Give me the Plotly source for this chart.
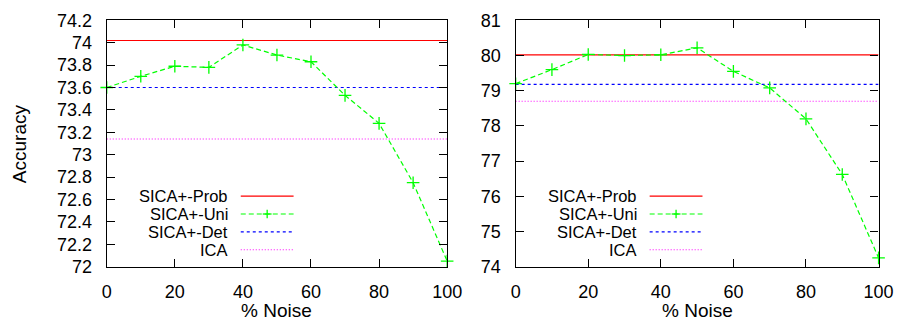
import plotly.graph_objects as go

noise = [0, 10, 20, 30, 40, 50, 60, 70, 80, 90, 100]

# Left panel
uni_left = [73.60, 73.70, 73.79, 73.78, 73.98, 73.89, 73.83, 73.53, 73.28, 72.75, 72.05]
prob_left = 74.02
det_left = 73.60
ica_left = 73.14

# Right panel
uni_right = [79.20, 79.60, 80.03, 80.00, 80.02, 80.22, 79.55, 79.08, 78.20, 76.62, 74.25]
prob_right = 80.02
det_right = 79.18
ica_right = 78.70

series_names = ["SICA+-Prob", "SICA+-Uni", "SICA+-Det", "ICA"]

W, H = 919, 334
FONT = "Liberation Sans"
FS = 19
LFS = 16.5
TFS = 18
RED, GREEN, BLUE, MAG = "#ff0000", "#00ff00", "#0000ff", "#ff00ff"

fig = go.Figure()

def px_x(p):
    return p / W

def px_y(p):
    return 1 - p / H

panels = [
    dict(xa="x", ya="y", uni=uni_left, prob=prob_left, det=det_left, ica=ica_left),
    dict(xa="x2", ya="y2", uni=uni_right, prob=prob_right, det=det_right, ica=ica_right),
]

x0, x1 = noise[0], noise[-1]
for p in panels:
    fig.add_trace(go.Scatter(x=[x0, x1], y=[p["prob"]] * 2, mode="lines",
                             line=dict(color=RED, width=1.2), xaxis=p["xa"], yaxis=p["ya"],
                             showlegend=False, hoverinfo="skip"))
    fig.add_trace(go.Scatter(x=[x0, x1], y=[p["det"]] * 2, mode="lines",
                             line=dict(color=BLUE, width=1.2, dash="3px,3px"), xaxis=p["xa"], yaxis=p["ya"],
                             showlegend=False))
    fig.add_trace(go.Scatter(x=[x0, x1], y=[p["ica"]] * 2, mode="lines",
                             line=dict(color=MAG, width=1.2, dash="1px,2px"), xaxis=p["xa"], yaxis=p["ya"],
                             showlegend=False))
    fig.add_trace(go.Scatter(x=noise, y=p["uni"], mode="lines+markers",
                             line=dict(color=GREEN, width=1.2, dash="5px,3px"),
                             marker=dict(symbol="cross-thin", size=9, line=dict(color=GREEN, width=1.3)),
                             xaxis=p["xa"], yaxis=p["ya"], showlegend=False, cliponaxis=False))

L = dict(x=(104, 452))
R = dict(x=(522, 893))
ytop, ybot = 11, 273

axis_common = dict(showline=True, mirror="ticks", linecolor="black", linewidth=1.3,
                   ticks="inside", ticklen=8, tickcolor="black", tickwidth=1.2,
                   showgrid=False, zeroline=False,
                   tickfont=dict(family=FONT, size=TFS, color="black"))

fig.update_layout(
    width=W, height=H, margin=dict(l=0, r=0, t=0, b=0),
    paper_bgcolor="white", plot_bgcolor="white",
    font=dict(family=FONT, size=FS, color="black"),
    showlegend=False,
    xaxis=dict(domain=[px_x(L["x"][0]), px_x(L["x"][1])], range=[0, 100], dtick=20, tick0=0,
               anchor="y", ticklabelstandoff=9, **axis_common),
    yaxis=dict(domain=[px_y(ybot), px_y(ytop)], range=[72, 74.2], dtick=0.2, tick0=72,
               anchor="x", ticklabelstandoff=10, **axis_common),
    xaxis2=dict(domain=[px_x(R["x"][0]), px_x(R["x"][1])], range=[0, 100], dtick=20, tick0=0,
                anchor="y2", ticklabelstandoff=9, **axis_common),
    yaxis2=dict(domain=[px_y(ybot), px_y(ytop)], range=[74, 81], dtick=1, tick0=74,
                anchor="x2", ticklabelstandoff=10, **axis_common),
)

annotations = []
shapes = []
annotations.append(dict(text="Accuracy", x=px_x(15), y=px_y(142), xref="paper", yref="paper",
                        xanchor="center", yanchor="middle",
                        textangle=-90, showarrow=False, font=dict(size=FS)))
for cx in [(104 + 452) / 2, (522 + 893) / 2]:
    annotations.append(dict(text="% Noise", x=px_x(cx), y=px_y(320), xref="paper", yref="paper",
                            xanchor="center", yanchor="middle",
                            showarrow=False, font=dict(size=FS)))

styles = [
    dict(color=RED, dash="solid"),
    dict(color=GREEN, dash="5px,3px"),
    dict(color=BLUE, dash="3px,3px"),
    dict(color=MAG, dash="1px,2px"),
]
rows = [198, 217, 236, 255]
for text_right, k0, k1 in [(229, 241, 295), (647, 659, 713)]:
    for name, st, ry in zip(series_names, styles, rows):
        annotations.append(dict(text=name, x=px_x(text_right), y=px_y(ry), xref="paper", yref="paper",
                                xanchor="right", yanchor="middle", valign="middle",
                                borderpad=0, showarrow=False, font=dict(size=LFS)))
        shapes.append(dict(type="line", xref="paper", yref="paper",
                           x0=px_x(k0), x1=px_x(k1), y0=px_y(ry), y1=px_y(ry),
                           line=dict(color=st["color"], width=1.2, dash=st["dash"])))
    mx = (k0 + k1) / 2
    ry = rows[1]
    shapes.append(dict(type="line", xref="paper", yref="paper", x0=px_x(mx - 4.5), x1=px_x(mx + 4.5),
                       y0=px_y(ry), y1=px_y(ry), line=dict(color=GREEN, width=1.3)))
    shapes.append(dict(type="line", xref="paper", yref="paper", x0=px_x(mx), x1=px_x(mx),
                       y0=px_y(ry - 4.5), y1=px_y(ry + 4.5), line=dict(color=GREEN, width=1.3)))

fig.update_layout(annotations=annotations, shapes=shapes)
fig.write_html("out.html", config={"displayModeBar": False},
               post_script="document.body.style.margin='0';document.body.style.overflow='hidden';")
